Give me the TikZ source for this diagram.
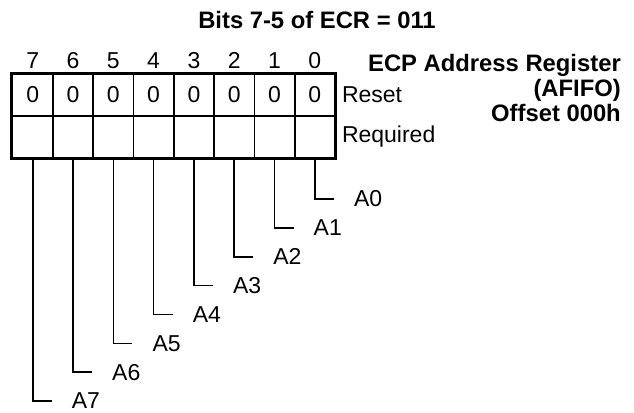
\documentclass[tikz,border=0pt]{standalone}
\usepackage{fontspec}
\setmainfont{Liberation Sans}
\usetikzlibrary{positioning}

\begin{document}
\begin{tikzpicture}[
    x=1pt, y=-1pt,
    cell/.style={
        draw,
        line width=1.6pt,
        minimum width=40.4pt,
        minimum height=42pt,
        inner sep=0pt,
        font=\fontsize{23}{26}\selectfont
    },
    bitnum/.style={
        anchor=base,
        inner sep=0pt,
        font=\fontsize{23}{26}\selectfont
    },
    rowlabel/.style={
        anchor=west,
        inner sep=0pt,
        font=\fontsize{23}{26}\selectfont
    },
    heading/.style={
        inner sep=0pt,
        font=\bfseries\fontsize{23.8}{25}\selectfont
    },
    lead/.style={
        line width=1.6pt
    },
    lead_label/.style={
        anchor=west,
        inner sep=0pt,
        font=\fontsize{23}{26}\selectfont
    }
]
    \useasboundingbox (0,0) rectangle (634,412);

    % TITLE
    \node[heading] (title) at (317,20) {Bits 7-5 of ECR = 011};

    % REGISTER CELLS
    \foreach \b in {7,...,0} {
        \node[cell] (r\b) at ({32.7+40.3*(7-\b)},95) {0};
        \node[cell] (q\b) at ({32.7+40.3*(7-\b)},137) {};
        \node[bitnum] (b\b) at ({32.7+40.3*(7-\b)},68) {\b};
    }
    \draw[line width=2.7pt] (r7.north west) rectangle (q0.south east);

    % ROW LABELS
    \node[rowlabel] (reset) [right=6pt of r0] {Reset};
    \node[rowlabel] (required) [right=6pt of q0] {Required};

    % REGISTER NAME
    \node[heading, align=right, anchor=north east] (regname) at (621,54)
        {ECP Address Register\\(AFIFO)\\Offset 000h};

    % ADDRESS LEADS
    \foreach \b in {0,...,7} {
        \coordinate (t\b) at ({32.7+40.3*(7-\b)+19},{199+28.86*\b});
        \draw[lead] (q\b.south) |- (t\b);
        \node[lead_label] (a\b) [right=20pt of t\b] {A\b};
    }

\end{tikzpicture}
\end{document}
